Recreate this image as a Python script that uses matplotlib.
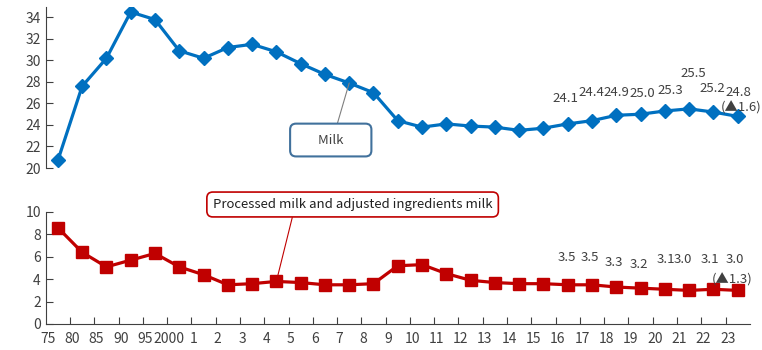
import matplotlib.pyplot as plt
from matplotlib.transforms import ScaledTranslation

plt.rcParams["font.family"] = ["Noto Sans CJK JP", "DejaVu Sans"]

# Data
years = ["75", "80", "85", "90", "95", "2000", "1", "2", "3", "4", "5", "6", "7",
         "8", "9", "10", "11", "12", "13", "14", "15", "16", "17", "18", "19",
         "20", "21", "22", "23"]
milk = [20.7, 27.6, 30.2, 34.5, 33.8, 30.9, 30.2, 31.2, 31.5, 30.8, 29.7, 28.7,
        27.9, 27.0, 24.4, 23.8, 24.1, 23.9, 23.8, 23.5, 23.7, 24.1, 24.4, 24.9,
        25.0, 25.3, 25.5, 25.2, 24.8]
processed = [8.6, 6.4, 5.1, 5.7, 6.3, 5.1, 4.4, 3.5, 3.6, 3.8, 3.7, 3.5, 3.5,
             3.6, 5.2, 5.3, 4.5, 3.9, 3.7, 3.6, 3.6, 3.5, 3.5, 3.3, 3.2, 3.1,
             3.0, 3.1, 3.0]
milk_change = "(▲1.6)"
processed_change = "(▲1.3)"

BLUE = "#0070C0"
RED = "#C00000"
TXT = "#404040"
x = list(range(len(years)))
first_lab = 21  # value labels from 2016 onward

# label offsets (pixels) for the value labels
milk_off = [(-2, 25), (-1, 28), (0, 23), (2, 21), (6, 20), (4, 35), (-1, 24), (1, 24)]
proc_off = [(-1, 27), (-2, 27), (-2, 25), (-2, 24), (1, 30), (-6, 31), (-3, 30), (-3, 31)]

fig = plt.figure(figsize=(7.62, 3.5), dpi=100)
ax1 = fig.add_axes([0.060, 0.52, 0.924, 0.461])
ax2 = fig.add_axes([0.060, 0.0743, 0.924, 0.3200])

# ── top: milk ─────────────────────────────
ax1.plot(x, milk, color=BLUE, linewidth=2.3, marker="D", markersize=7.5, zorder=3)
ax1.set_ylim(20, 35)
ax1.set_xlim(-0.5, len(years) - 0.5)
ax1.set_yticks(range(20, 35, 2))
ax1.set_xticks([])
for s in ["top", "right", "bottom"]:
    ax1.spines[s].set_visible(False)
ax1.spines["left"].set_color(TXT)
ax1.tick_params(axis="y", direction="in", length=5, colors=TXT, labelsize=10)

for i, (dx, dy) in zip(range(first_lab, len(years)), milk_off):
    ax1.annotate(f"{milk[i]:.1f}", (x[i], milk[i]), xytext=(dx, dy),
                 textcoords="offset pixels", ha="center", va="center",
                 fontsize=9.5, color=TXT)
ax1.annotate(milk_change, (x[-1], milk[-1]), xytext=(3, 9),
             textcoords="offset pixels", ha="center", va="center",
             fontsize=9.5, color=TXT)

# callout box for the milk series
ax1.annotate("      Milk      ", (x[12], milk[12]), xytext=(11.24, 22.6),
             ha="center", va="center", fontsize=9.5, color=TXT,
             bbox=dict(boxstyle="round,pad=0.75,rounding_size=0.45", fc="white",
                       ec="#41719C", lw=1.5),
             arrowprops=dict(arrowstyle="-", color="#7f7f7f", lw=0.8,
                             relpos=(0.56, 1), shrinkA=0, shrinkB=0))

# ── bottom: processed milk ────────────────
ax2.plot(x, processed, color=RED, linewidth=2.3, marker="s", markersize=8, zorder=3)
ax2.set_ylim(0, 10)
ax2.set_xlim(-0.5, len(years) - 0.5)
ax2.set_yticks(range(0, 11, 2))
ax2.set_xticks([i + 0.5 for i in x[:-1]], minor=False)
ax2.set_xticks(x, minor=True)
ax2.set_xticklabels([])
ax2.set_xticklabels(years, minor=True)
for s in ["top", "right"]:
    ax2.spines[s].set_visible(False)
ax2.spines["left"].set_color(TXT)
ax2.spines["bottom"].set_color(TXT)
ax2.tick_params(axis="both", which="major", direction="in", length=5, colors=TXT, labelsize=10)
ax2.tick_params(axis="x", which="minor", length=0, colors=TXT, labelsize=10, pad=6)
shift = ScaledTranslation(-10 / 100, 0, fig.dpi_scale_trans)
for lab in ax2.xaxis.get_minorticklabels():
    lab.set_transform(lab.get_transform() + shift)

for i, (dx, dy) in zip(range(first_lab, len(years)), proc_off):
    ax2.annotate(f"{processed[i]:.1f}", (x[i], processed[i]), xytext=(dx, dy),
                 textcoords="offset pixels", ha="center", va="center",
                 fontsize=9.5, color=TXT)
ax2.annotate(processed_change, (x[-1], processed[-1]), xytext=(-6, 11),
             textcoords="offset pixels", ha="center", va="center",
             fontsize=9.5, color=TXT)

ax2.annotate("Processed milk and adjusted ingredients milk", (x[9], processed[9]),
             xytext=(12.14, 10.67), ha="center", va="center", fontsize=9.5,
             color="#202020", annotation_clip=False,
             bbox=dict(boxstyle="round,pad=0.45,rounding_size=0.45", fc="white",
                       ec=RED, lw=1.2),
             arrowprops=dict(arrowstyle="-", color=RED, lw=0.8,
                             relpos=(0.29, 0), shrinkA=0, shrinkB=4))

plt.savefig("out.png", dpi=100)
